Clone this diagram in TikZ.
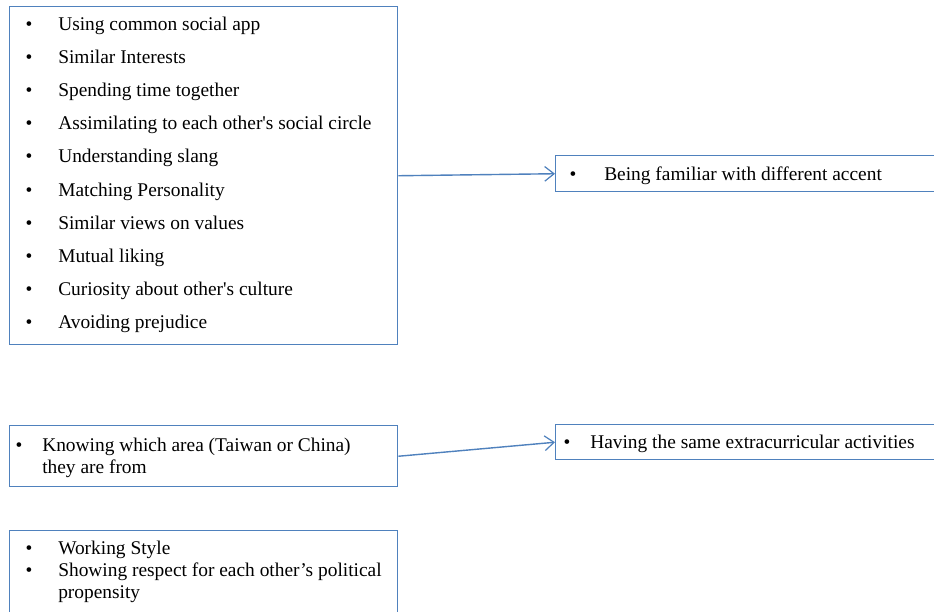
\documentclass[tikz,border=0pt]{standalone}
\usepackage{fontspec}
\setmainfont{Liberation Serif}
\usetikzlibrary{arrows.meta}
\definecolor{boxblue}{RGB}{79,129,189}
\newcommand{\sq}{\textquotesingle}
\begin{document}
\begin{tikzpicture}[x=0.75pt,y=-0.75pt,
  frame/.style={draw=boxblue,line width=1.1pt,rectangle,inner sep=0pt,anchor=north west},
  item/.style={anchor=base west,inner sep=0pt,font=\fontsize{14.55}{16}\selectfont},
  dot/.style={anchor=base,inner sep=0pt,font=\fontsize{14.55}{16}\selectfont},
  link/.style={draw=boxblue,line width=1.05pt,-{Straight Barb[length=7pt,width=11pt,line width=0.9pt]}}]
\useasboundingbox (0,0) rectangle (934,611);
\clip (0,0) rectangle (934,611);
\fill[white] (0,0) rectangle (934,611);

% left column boxes
\node[frame,minimum width=388*0.75pt,minimum height=338*0.75pt] (b1) at (9,6) {};
\node[frame,minimum width=388*0.75pt,minimum height=61*0.75pt] (b2) at (9,425) {};
\node[frame,minimum width=388*0.75pt,minimum height=120*0.75pt] (b3) at (9,530) {};
% right column boxes (run past the page edge)
\node[frame,minimum width=420*0.75pt,minimum height=36*0.75pt] (r1) at (555,155) {};
\node[frame,minimum width=420*0.75pt,minimum height=35*0.75pt] (r2) at (555,424) {};

% first list
\foreach \txt [count=\i from 0] in {Using common social app,Similar Interests,Spending time together,Assimilating to each other\sq s social circle,Understanding slang,Matching Personality,Similar views on values,Mutual liking,Curiosity about other\sq s culture,Avoiding prejudice}{
  \node[dot] (d1-\i) at (29,30+33.2*\i) {•};
  \node[item] (t1-\i) at (58,30+33.2*\i) {\txt};
}

% second box
\node[dot] (d2) at (19,451) {•};
\node[item] (t2a) at (42,451) {Knowing which area (Taiwan or China)};
\node[item] (t2b) at (42,473) {they are from};

% third box
\node[dot] (d3a) at (29,554) {•};
\node[item] (t3a) at (58,554) {Working Style};
\node[dot] (d3b) at (29,576) {•};
\node[item] (t3b) at (58,576) {Showing respect for each other’s political};
\node[item] (t3c) at (58,598) {propensity};

% right boxes text
\node[dot] (dr1) at (573,180) {•};
\node[item] (tr1) at (604,180) {Being familiar with different accent};
\node[dot] (dr2) at (567,448) {•};
\node[item] (tr2) at (590,448) {Having the same extracurricular activities};

% connectors
\draw[link] (b1.east) -- (r1.west);
\draw[link] (b2.east) -- (r2.west);
\end{tikzpicture}
\end{document}
